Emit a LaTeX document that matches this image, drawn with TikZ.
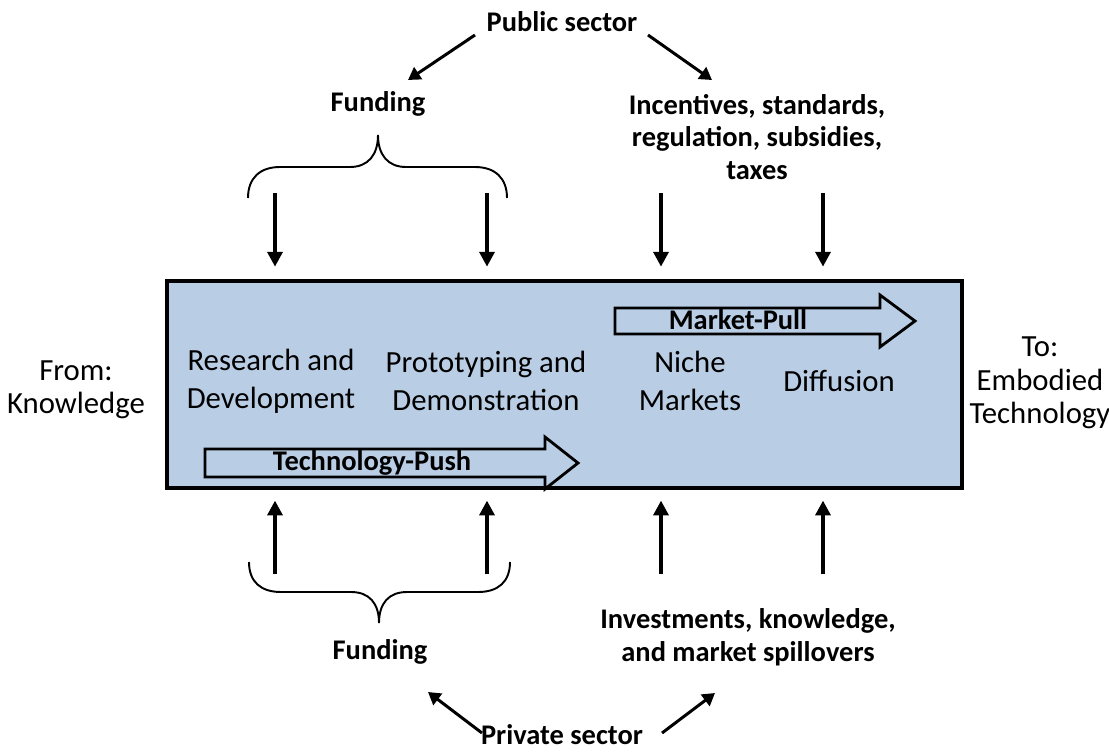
\documentclass[tikz,border=0pt]{standalone}
\usepackage{fontspec}
\setmainfont{Carlito}
\usetikzlibrary{arrows.meta}
\definecolor{boxblue}{HTML}{B9CDE5}

\begin{document}
\begin{tikzpicture}[x=0.02cm, y=-0.02cm]
	\tikzset{label text/.style={font=\fontsize{16.2}{18.7}\selectfont\bfseries, align=center, inner sep=0pt},
		stage text/.style={font=\fontsize{17.5}{21.5}\selectfont, align=center, inner sep=0pt},
		side text/.style={font=\fontsize{17.5}{19}\selectfont, align=center, inner sep=0pt},
		feed lines/.style={line width=2.2pt, -{Triangle[width=8.5pt,length=8.5pt]}},
		sector lines/.style={line width=1.7pt, -{Triangle[width=8pt,length=7pt]}},
		brace lines/.style={line width=1.1pt},
		big arrow/.style={line width=1.6pt, fill=boxblue}}
	\useasboundingbox (0,0) rectangle (1109,751);
	% \draw (0, 0) grid[step=50] (1109, 751);
	\node[draw, line width=2.3pt, fill=boxblue, minimum width=15.9cm, minimum height=4.14cm] (box) at (564.5,384.5) {};
	\node[stage text] (rd) at (271,381) {Research and\\Development};
	\node[stage text] (pd) at (486,381) {Prototyping and\\Demonstration};
	\node[stage text] (nm) at (690,381) {Niche\\Markets};
	\node[stage text] (df) at (839,381) {Diffusion};
	\draw[big arrow] (205,449) -- (545,449) -- (545,437) -- (578,463) -- (545,489) -- (545,477) -- (205,477) -- cycle;
	\draw[big arrow] (615,308) -- (880,308) -- (880,295) -- (915,321) -- (880,347) -- (880,334) -- (615,334) -- cycle;
	\node[label text] (push) at (372,463) {Technology-Push};
	\node[label text] (pull) at (738,320) {Market-Pull};
	\node[side text] (from) at (76,390) {From:\\Knowledge};
	\node[side text] (to) at (1040,383) {To:\\Embodied\\Technology};
	\node[label text] (pub) at (562,22) {Public sector};
	\node[label text] (fundtop) at (378,104) {Funding};
	\node[label text] (policy) at (757,137) {Incentives, standards,\\regulation, subsidies,\\taxes};
	\node[label text] (fundbot) at (380,652) {Funding};
	\node[label text] (invest) at (748,637) {Investments, knowledge,\\and market spillovers};
	\node[label text] (priv) at (562,735) {Private sector};
	\coordinate (pub l) at (475,35);
	\coordinate (pub r) at (648,35);
	\coordinate (priv l) at (482,733);
	\coordinate (priv r) at (662,733);
	\draw[sector lines] (pub l) -- (408,80);
	\draw[sector lines] (pub r) -- (712,80);
	\draw[sector lines] (priv l) -- (428,692);
	\draw[sector lines] (priv r) -- (715,693);
	\foreach \x [count=\i] in {275,487,661,823} {
		\coordinate (top\i) at (\x,193);
		\coordinate (bot\i) at (\x,574);
		\draw[feed lines, shorten >=7pt] (top\i) -- (top\i |- box.north);
		\draw[feed lines, shorten >=6pt] (bot\i) -- (bot\i |- box.south);
	}
	\draw[brace lines] (248,198) .. controls (248,178) and (260,167) .. (280,167) -- (350,167)
		.. controls (368,167) and (378,155) .. (378,135) .. controls (378,155) and (388,167) .. (406,167)
		-- (475,167) .. controls (495,167) and (507,178) .. (507,198);
	\draw[brace lines] (249,562) .. controls (249,582) and (261,592) .. (281,592) -- (351,592)
		.. controls (369,592) and (379,603) .. (379,623) .. controls (379,603) and (389,592) .. (407,592)
		-- (478,592) .. controls (498,592) and (510,582) .. (510,562);
\end{tikzpicture}
\end{document}
